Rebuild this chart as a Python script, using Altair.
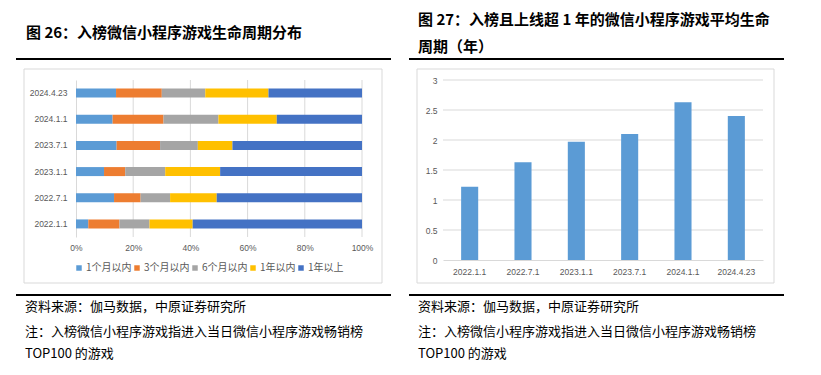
import altair as alt
import pandas as pd

# ---------------- data ----------------
categories = ["2022.1.1", "2022.7.1", "2023.1.1", "2023.7.1", "2024.1.1", "2024.4.23"]
segments = ["1个月以内", "3个月以内", "6个月以内", "1年以内", "1年以上"]
share_1m = [4.3, 13.3, 9.8, 14.2, 12.8, 14.0]
share_3m = [10.9, 9.3, 7.4, 15.2, 17.8, 16.0]
share_6m = [10.5, 10.3, 14.0, 13.2, 19.2, 15.2]
share_1y = [15.1, 16.3, 19.2, 12.1, 20.4, 22.1]
share_over1y = [59.2, 50.8, 49.6, 45.3, 29.8, 32.7]
avg_life = [1.22, 1.63, 1.97, 2.10, 2.63, 2.40]
pct_ticks = [0, 0.2, 0.4, 0.6, 0.8, 1.0]
year_ticks = [0, 0.5, 1, 1.5, 2, 2.5, 3]
seg_colors = ["#5B9BD5", "#ED7D31", "#A5A5A5", "#FFC000", "#4472C4"]

title_left = "图 26：入榜微信小程序游戏生命周期分布"
title_right_1 = "图 27：入榜且上线超 1 年的微信小程序游戏平均生命"
title_right_2 = "周期（年）"
source_text = "资料来源：伽马数据，中原证券研究所"
note_text = "注：入榜微信小程序游戏指进入当日微信小程序游戏畅销榜"
note_text_2 = "TOP100 的游戏"

# ---------------- tables ----------------
rows = []
for si, (seg, vals) in enumerate(zip(segments, [share_1m, share_3m, share_6m, share_1y, share_over1y])):
    for c, v in zip(categories, vals):
        rows.append({"date": c, "segment": seg, "order": si, "share": v})
df_left = pd.DataFrame(rows)
df_right = pd.DataFrame({"date": categories, "years": avg_life})
df_pct_grid = pd.DataFrame({"t": pct_ticks[1:]})
df_year_grid = pd.DataFrame({"t": year_ticks[1:]})
one = alt.Data(values=[{"k": 1}])

# ---------------- layout (px, relative to view origin) ----------------
W, H = 805, 359
LX = [68, 354]
LY = [72, 229]
RX = [435, 755]
RY = [252, 72]

AX_FONT = "Liberation Sans, Noto Sans CJK SC"
CJK = "Noto Sans CJK SC"
AX_COL = "#595959"
GRID = "#d9d9d9"

lx_scale = alt.Scale(domain=[0, 1], range=LX, nice=False, zero=True)
ry_scale = alt.Scale(domain=[0, 3], range=RY, nice=False)

lx_axis = alt.Axis(orient="bottom", offset=LY[1] - H, values=pct_ticks, format=".0%",
                   title=None, ticks=False, domain=False, grid=False, labelPadding=6,
                   labelFlush=False, labelFont=AX_FONT, labelFontSize=8.5, labelColor=AX_COL)
ry_axis = alt.Axis(orient="left", offset=-RX[0], values=year_ticks, format="~g",
                   title=None, ticks=False, domain=False, grid=False, labelPadding=6,
                   labelFlush=False, labelFont=AX_FONT, labelFontSize=8.5, labelColor=AX_COL)

# ---------------- left: 100% stacked bars ----------------
grid_left = alt.Chart(df_pct_grid).mark_rule(color=GRID, strokeWidth=1).encode(
    x=alt.X("t:Q", scale=lx_scale, axis=lx_axis, title=None),
    y=alt.value(LY[0]),
    y2=alt.value(LY[1]),
)

bars_left = alt.Chart(df_left).mark_bar().encode(
    y=alt.Y(
        "date:N",
        sort=categories[::-1],
        scale=alt.Scale(range=LY, paddingInner=0.656, paddingOuter=0.328),
        axis=alt.Axis(orient="left", offset=-LX[0], title=None, ticks=False, grid=False,
                      labelPadding=9, domainColor=GRID, labelFont=AX_FONT,
                      labelFontSize=8.5, labelColor=AX_COL),
    ),
    x=alt.X("share:Q", stack="normalize", scale=lx_scale, axis=lx_axis, title=None),
    color=alt.Color(
        "segment:N",
        sort=segments,
        scale=alt.Scale(domain=segments, range=seg_colors),
        legend=alt.Legend(orient="none", legendX=66, legendY=255, direction="horizontal",
                          title=None, symbolType="square", symbolSize=30,
                          symbolStrokeWidth=0, labelFont=CJK, labelFontSize=10,
                          labelColor=AX_COL, columnPadding=0, labelOffset=2, padding=0),
    ),
    order=alt.Order("order:Q"),
)

left = alt.layer(grid_left, bars_left)

# ---------------- right: simple bars ----------------
grid_right = alt.Chart(df_year_grid).mark_rule(color=GRID, strokeWidth=1).encode(
    y=alt.Y("t:Q", scale=ry_scale, axis=ry_axis, title=None),
    x=alt.value(RX[0]),
    x2=alt.value(RX[1]),
)

bars_right = alt.Chart(df_right).mark_bar(color="#5B9BD5").encode(
    x=alt.X(
        "date:N",
        sort=categories,
        scale=alt.Scale(range=RX, paddingInner=0.68, paddingOuter=0.34),
        axis=alt.Axis(orient="bottom", offset=RY[0] - H, title=None, ticks=False, grid=False,
                      labelAngle=0, labelPadding=7, domainColor=GRID, labelFont=AX_FONT,
                      labelFontSize=8.5, labelColor=AX_COL),
    ),
    y=alt.Y("years:Q", scale=ry_scale, axis=ry_axis, title=None),
)

right = alt.layer(grid_right, bars_right)

# ---------------- decorations ----------------
def rule(x1, x2, y, color="#000000", width=2):
    return alt.Chart(one).mark_rule(color=color, strokeWidth=width).encode(
        x=alt.value(x1), x2=alt.value(x2), y=alt.value(y))

def box(x1, x2, y1, y2):
    return alt.Chart(one).mark_rect(filled=False, stroke=GRID, strokeWidth=1).encode(
        x=alt.value(x1), x2=alt.value(x2), y=alt.value(y1), y2=alt.value(y2))

def label(txt, x, y, size, weight="normal"):
    return alt.Chart(one).mark_text(align="left", baseline="middle", font=CJK,
                                    fontSize=size, fontWeight=weight, color="#000000").encode(
        x=alt.value(x), y=alt.value(y), text=alt.value(txt))

decor = [
    box(16, 374, 61, 275),
    box(409, 766, 61, 275),
    rule(8, 383, 51),
    rule(401, 776, 51),
    rule(8, 383, 287),
    rule(401, 776, 287),
    label(title_left, 18, 25, 15, "bold"),
    label(title_right_1, 410, 12, 15, "bold"),
    label(title_right_2, 410, 39, 15, "bold"),
    label(source_text, 17, 299, 13),
    label(note_text, 17, 324, 13),
    label(note_text_2, 17, 346, 13),
    label(source_text, 410, 299, 13),
    label(note_text, 410, 324, 13),
    label(note_text_2, 410, 346, 13),
]

chart = alt.layer(left, right, *decor).resolve_scale(
    x="independent", y="independent"
).properties(
    width=W,
    height=H,
    autosize=alt.AutoSizeParams(type="none"),
    padding=0,
    background="#ffffff",
).configure_view(strokeWidth=0)

chart.save("out.html", embed_options={"renderer": "svg", "actions": False})
